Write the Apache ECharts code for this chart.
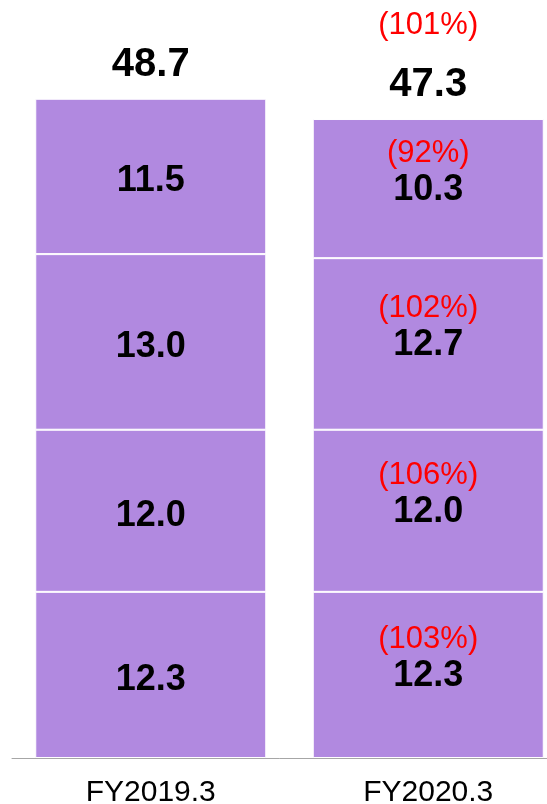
<!DOCTYPE html>
<html>
<head>
<meta charset="utf-8">
<script src="https://cdn.jsdelivr.net/npm/echarts@6/dist/echarts.min.js"></script>
<style>
  html, body { margin: 0; padding: 0; background: #fff; }
  #chart { width: 547px; height: 804px; }
</style>
</head>
<body>
<div id="chart"></div>
<script>
// categories and data (bottom segment first)
const categories = ['FY2019.3', 'FY2020.3'];
const seg1 = [12.3, 12.3];
const seg2 = [12.0, 12.0];
const seg3 = [13.0, 12.7];
const seg4 = [11.5, 10.3];
const totals = [48.7, 47.3];
// year-on-year ratios shown in red (only for FY2020.3)
const pct1 = [null, '103%'];
const pct2 = [null, '106%'];
const pct3 = [null, '102%'];
const pct4 = [null, '92%'];
const pctTotal = [null, '101%'];

const purple = '#b189e0';

function segSeries(vals, pcts) {
  return {
    type: 'bar',
    stack: 'a',
    barWidth: 231,
    itemStyle: { color: purple, borderColor: '#fff', borderWidth: 1 },
    data: vals.map(function (v, i) {
      return {
        value: v,
        label: { offset: pcts[i] ? [0, -17] : [0, 5] }
      };
    }),
    label: {
      show: true,
      position: 'inside',
      fontFamily: 'Liberation Sans',
      formatter: function (p) {
        const v = p.value.toFixed(1);
        const pc = pcts[p.dataIndex];
        return pc ? '{p|(' + pc + ')}\n{v|' + v + '}' : '{v|' + v + '}';
      },
      rich: {
        p: { fontSize: 31, color: '#ff0000', lineHeight: 36, fontFamily: 'Liberation Sans' },
        v: { fontSize: 36, fontWeight: 'bold', color: '#000', lineHeight: 36, fontFamily: 'Liberation Sans' }
      }
    }
  };
}

const chart = echarts.init(document.getElementById('chart'));
chart.setOption({
  animation: false,
  grid: { left: 12, right: -20, top: 15, bottom: 46, outerBoundsMode: 'none', containLabel: false },
  xAxis: {
    type: 'category',
    data: categories,
    axisTick: { show: false },
    axisLine: { lineStyle: { color: '#a6a6a6', width: 1 } },
    axisLabel: { fontSize: 30, color: '#000', margin: 20, fontFamily: 'Liberation Sans' }
  },
  yAxis: { type: 'value', min: 0, max: 55, show: false, splitLine: { show: false } },
  series: [
    segSeries(seg1, pct1),
    segSeries(seg2, pct2),
    segSeries(seg3, pct3),
    segSeries(seg4, pct4),
    {
      type: 'bar',
      stack: 'a',
      barWidth: 231,
      itemStyle: { color: 'transparent', borderWidth: 0 },
      data: totals.map(function () { return 0; }),
      label: {
        show: true,
        position: 'top',
        distance: 14,
        formatter: function (p) {
          const t = totals[p.dataIndex].toFixed(1);
          const pc = pctTotal[p.dataIndex];
          return pc ? '{p|(' + pc + ')}\n{t|' + t + '}' : '{t|' + t + '}';
        },
        rich: {
          p: { fontSize: 31, color: '#ff0000', lineHeight: 80, fontFamily: 'Liberation Sans' },
          t: { fontSize: 40, fontWeight: 'bold', color: '#000', lineHeight: 40, fontFamily: 'Liberation Sans' }
        }
      }
    }
  ]
});
</script>
</body>
</html>
